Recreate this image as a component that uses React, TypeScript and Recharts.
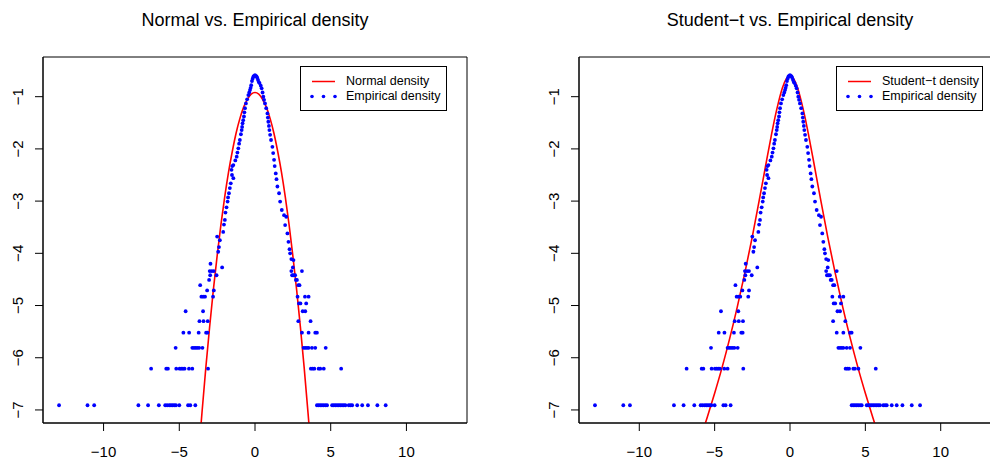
import React from 'react';
import { ComposedChart, Line, Scatter, XAxis, YAxis, Legend, ReferenceArea } from 'recharts';

const xTicks = [-10, -5, 0, 5, 10];
const yTicks = [-7, -6, -5, -4, -3, -2, -1];
const xDomain = [-14, 14];
const yDomain = [-7.25, -0.24];

// fitted normal log-density
const normalX = [-3.6, -3.5, -3.25, -3, -2.75, -2.5, -2.25, -2, -1.75, -1.5, -1.25, -1, -0.75, -0.5, -0.25, 0,
    0.25, 0.5, 0.75, 1, 1.25, 1.5, 1.75, 2, 2.25, 2.5, 2.75, 3, 3.25, 3.5, 3.6];
const normalY = [-7.4, -7.05, -6.2, -5.42, -4.7, -4.05, -3.45, -2.92, -2.45, -2.05, -1.7, -1.42, -1.2, -1.05, -0.95, -0.92,
    -0.95, -1.05, -1.2, -1.42, -1.7, -2.05, -2.45, -2.92, -3.45, -4.05, -4.7, -5.42, -6.2, -7.05, -7.4];

// fitted student-t log-density
const studentX = [-6, -5.5, -5, -4.5, -4, -3.5, -3, -2.5, -2, -1.75, -1.5, -1.25, -1, -0.75, -0.5, -0.25, 0,
    0.25, 0.5, 0.75, 1, 1.25, 1.5, 1.75, 2, 2.5, 3, 3.5, 4, 4.5, 5, 5.5, 6];
const studentY = [-7.59, -7.15, -6.68, -6.18, -5.63, -5.03, -4.38, -3.68, -2.92, -2.53, -2.14, -1.76, -1.4, -1.09, -0.83, -0.66, -0.6,
    -0.66, -0.83, -1.09, -1.4, -1.76, -2.14, -2.53, -2.92, -3.68, -4.38, -5.03, -5.63, -6.18, -6.68, -7.15, -7.59];

// empirical log-density points
const empCenter: [number, number][] = [
    [-0.2, -0.7], [-0.15, -0.65], [-0.1, -0.61], [-0.05, -0.6], [0, -0.59], [0.05, -0.6], [0.1, -0.61], [0.15, -0.64], [0.2, -0.68],
    [-0.25, -0.78], [-0.29, -0.83], [-0.33, -0.87], [-0.38, -0.92], [-0.44, -0.97], [-0.52, -1.05], [-0.6, -1.13], [-0.66, -1.22],
    [-0.7, -1.3], [-0.73, -1.38], [-0.78, -1.45], [-0.82, -1.51], [-0.85, -1.58], [-0.88, -1.64], [-0.93, -1.72], [-1.0, -1.83],
    [-1.05, -1.9], [-1.1, -1.99], [-1.16, -2.07], [-1.21, -2.15], [-1.3, -2.22], [-1.43, -2.31], [-1.5, -2.33], [-1.55, -2.4],
    [-1.43, -2.56], [-1.52, -2.5], [-1.6, -2.66], [-1.66, -2.75], [-1.72, -2.85], [-1.78, -2.93], [-1.81, -3.01], [-1.88, -3.12],
    [-1.95, -3.22], [-1.99, -3.36], [-2.05, -3.45], [-2.1, -3.59], [-2.32, -3.75], [-2.5, -3.68], [-2.43, -3.97], [-2.38, -3.88],
    [0.25, -0.72], [0.3, -0.74], [0.38, -0.79], [0.44, -0.84], [0.5, -0.92], [0.55, -1.0], [0.6, -1.06], [0.66, -1.13],
    [0.74, -1.22], [0.82, -1.32], [0.85, -1.4], [0.88, -1.48], [0.92, -1.56], [0.95, -1.64], [1.0, -1.73], [1.06, -1.83],
    [1.15, -1.96], [1.2, -2.08], [1.26, -2.21], [1.3, -2.33], [1.37, -2.47], [1.42, -2.58], [1.48, -2.72], [1.59, -2.85],
    [1.66, -3.01], [1.77, -3.17], [1.92, -3.27], [2.06, -3.3], [1.99, -3.46], [2.14, -3.62], [2.21, -3.78], [2.28, -3.92],
    [2.32, -4.0], [2.4, -4.11],
];
const empLeftTail: [number, number][] = [
    [-12.94, -6.91], [-11.06, -6.91], [-10.62, -6.91], [-7.7, -6.91], [-7.06, -6.91], [-6.35, -6.91], [-5.93, -6.91],
    [-5.8, -6.91], [-5.66, -6.91], [-5.55, -6.91], [-5.44, -6.91], [-5.33, -6.91], [-5.22, -6.91], [-5.0, -6.91],
    [-4.42, -6.91], [-4.27, -6.91], [-3.94, -6.91],
    [-6.86, -6.21], [-5.86, -6.21], [-5.75, -6.21], [-5.2, -6.21], [-4.98, -6.21], [-4.87, -6.21], [-4.76, -6.21],
    [-4.65, -6.21], [-4.36, -6.21], [-4.14, -6.21], [-3.1, -6.21],
    [-5.24, -5.81], [-4.14, -5.81], [-4.03, -5.81], [-3.92, -5.81], [-3.81, -5.81], [-3.69, -5.81], [-3.47, -5.81],
    [-4.73, -5.52], [-4.35, -5.52], [-3.72, -5.52], [-3.23, -5.52], [-3.14, -5.52],
    [-3.67, -5.3], [-3.4, -5.3], [-3.12, -5.3],
    [-4.58, -5.11], [-3.43, -5.11],
    [-3.54, -4.83], [-3.42, -4.83], [-3.3, -4.83], [-2.77, -4.83],
    [-3.16, -4.71], [-2.72, -4.71], [-3.62, -4.61], [-3.03, -4.51],
    [-2.96, -4.42], [-2.54, -4.42], [-2.99, -4.34], [-2.85, -4.34], [-2.72, -4.34],
    [-2.17, -4.27], [-2.94, -4.2],
];
const empRightTail: [number, number][] = [
    [4.09, -6.91], [4.2, -6.91], [4.31, -6.91], [4.42, -6.91], [4.53, -6.91], [4.65, -6.91], [4.76, -6.91], [5.09, -6.91],
    [5.2, -6.91], [5.31, -6.91], [5.42, -6.91], [5.53, -6.91], [5.64, -6.91], [5.75, -6.91], [5.86, -6.91], [5.97, -6.91],
    [6.19, -6.91], [6.31, -6.91], [6.42, -6.91], [6.75, -6.91], [7.08, -6.91], [7.46, -6.91], [8.08, -6.91], [8.63, -6.91],
    [3.69, -6.21], [3.81, -6.21], [3.92, -6.21], [4.2, -6.21], [4.31, -6.21], [4.54, -6.21], [5.69, -6.21],
    [3.21, -5.81], [3.32, -5.81], [3.43, -5.81], [3.54, -5.81], [3.76, -5.81], [3.98, -5.81], [4.67, -5.81],
    [3.1, -5.52], [3.54, -5.52], [3.98, -5.52], [4.09, -5.52],
    [2.86, -5.3], [3.67, -5.3], [3.15, -5.11], [3.32, -5.11],
    [2.9, -4.96], [3.0, -4.96], [3.38, -4.96], [2.81, -4.83], [3.3, -4.83], [3.54, -4.83],
    [2.86, -4.61], [2.94, -4.61], [2.7, -4.51], [2.77, -4.51],
    [2.45, -4.42], [2.54, -4.42], [2.65, -4.42], [3.1, -4.34], [2.4, -4.34], [2.5, -4.27], [2.54, -4.13],
];

const toPoints = (xs: number[], ys: number[]) => xs.map((x, i) => ({ x, y: ys[i] }));
const normalCurve = toPoints(normalX, normalY);
const studentCurve = toPoints(studentX, studentY);
const empirical = [...empLeftTail, ...empCenter, ...empRightTail].map(([x, y]) => ({ x, y }));

const FONT = '"Liberation Sans", Arial, sans-serif';
const fmt = (v: number) => (v < 0 ? '\u2212' + Math.abs(v) : String(v));

const XTick = (props: any) => {
    const { x, y, payload } = props;
    return (
        <text x={x} y={y + 26} textAnchor="middle" fontSize={15} fontFamily={FONT} fill="#000">
            {fmt(payload.value)}
        </text>
    );
};

const YTick = (props: any) => {
    const { x, y, payload } = props;
    const tx = x - 11.5;
    return (
        <text x={tx} y={y} transform={`rotate(-90 ${tx} ${y})`} textAnchor="middle" fontSize={15} fontFamily={FONT} fill="#000">
            {fmt(payload.value)}
        </text>
    );
};

const LegendBox = (props: any) => {
    const items = [...(props.payload ?? [])].sort(
        (a: any, b: any) => (a.type === 'line' ? 0 : 1) - (b.type === 'line' ? 0 : 1)
    );
    return (
        <div style={{ border: '1px solid #000', width: 145, height: 36, background: '#fff', paddingTop: 7 }}>
            {items.map((it: any) => (
                <div key={it.value} style={{ display: 'flex', alignItems: 'center', height: 15 }}>
                    <svg width={45} height={15} style={{ display: 'block' }}>
                        {it.type === 'line' ? (
                            <line x1={11} x2={34} y1={7.5} y2={7.5} stroke="#ff0000" strokeWidth={1.5} />
                        ) : (
                            [11, 22.5, 34].map((cx) => <circle key={cx} cx={cx} cy={7.5} r={1.8} fill="#0000ff" />)
                        )}
                    </svg>
                    <span style={{ fontFamily: FONT, fontSize: 12.5, lineHeight: '15px', color: '#000', whiteSpace: 'nowrap' }}>
                        {it.value}
                    </span>
                </div>
            ))}
        </div>
    );
};

const Dot = (props: any) => <circle cx={props.cx} cy={props.cy} r={1.9} fill="#0000ff" />;

interface PanelProps {
    left: number;
    width: number;
    title: string;
    curve: { x: number; y: number }[];
    curveName: string;
}

const Panel = ({ left, width, title, curve, curveName }: PanelProps) => (
    <div style={{ position: 'absolute', left, top: 0, width, height: 459 }}>
        <div style={{ position: 'absolute', left: 43, top: 8, width: width - 56, textAlign: 'center', fontFamily: FONT, fontSize: 18, lineHeight: '24px', color: '#000' }}>
            {title}
        </div>
        <ComposedChart width={width} height={459} margin={{ top: 57, right: 13, bottom: 0, left: 8 }}>
            <XAxis dataKey="x" type="number" domain={xDomain} allowDataOverflow ticks={xTicks} interval={0}
                height={36} tickSize={8} tickMargin={0} tick={<XTick />}
                axisLine={{ stroke: '#000' }} tickLine={{ stroke: '#000' }} />
            <YAxis dataKey="y" type="number" domain={yDomain} allowDataOverflow ticks={yTicks} interval={0}
                width={35} tickSize={8} tickMargin={0} tick={<YTick />}
                axisLine={{ stroke: '#000' }} tickLine={{ stroke: '#000' }} />
            {/* plot frame, as R's box() */}
            <ReferenceArea x1={xDomain[0]} x2={xDomain[1]} y1={yDomain[0]} y2={yDomain[1]}
                fill="none" fillOpacity={0} stroke="#000" strokeWidth={1} strokeOpacity={1} ifOverflow="visible" />
            <Scatter name="Empirical density" data={empirical} dataKey="y" legendType="circle"
                shape={<Dot />} isAnimationActive={false} />
            <Line name={curveName} data={curve} dataKey="y" type="monotone" stroke="#ff0000" strokeWidth={1.6}
                dot={false} activeDot={false} legendType="line" isAnimationActive={false} />
            <Legend layout="horizontal" verticalAlign="middle" align="center" content={<LegendBox />}
                wrapperStyle={{ left: 300, top: 66, width: 147, height: 45 }} />
        </ComposedChart>
    </div>
);

export default function App() {
    return (
        <div style={{ position: 'absolute', left: 0, top: 0, width: 990, height: 459, overflow: 'hidden', background: '#fff' }}>
            <Panel left={0} width={480} title="Normal vs. Empirical density" curve={normalCurve} curveName="Normal density" />
            <Panel left={536} width={478} title={'Student\u2212t vs. Empirical density'} curve={studentCurve} curveName={'Student\u2212t density'} />
        </div>
    );
}
